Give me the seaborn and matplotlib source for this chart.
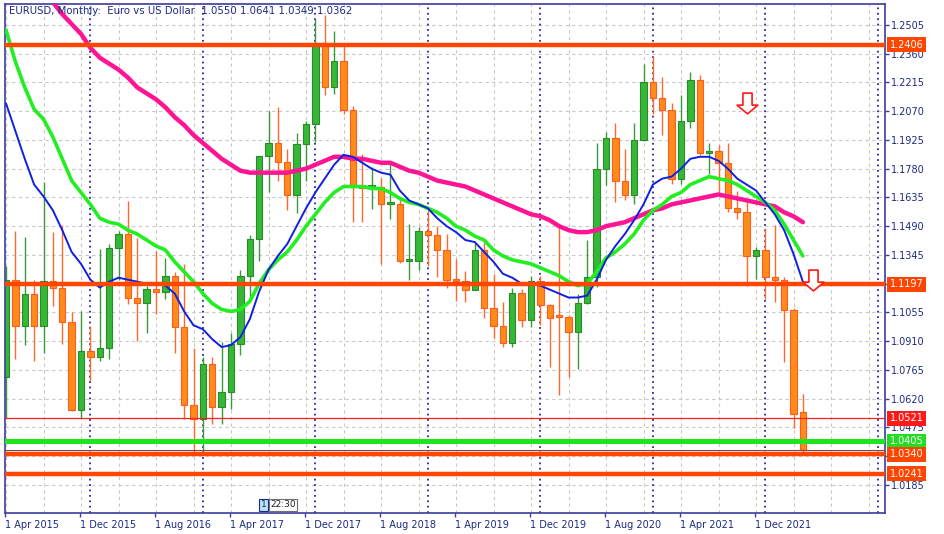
import numpy as np
import pandas as pd
import matplotlib
matplotlib.use("Agg")
import matplotlib.pyplot as plt
from matplotlib.path import Path
from matplotlib.patches import Rectangle
import seaborn as sns

sns.set_style("white")
plt.rcParams['font.family'] = ['DejaVu Sans']

# EURUSD monthly candles, Apr 2015 .. May 2022
opens = [1.0730, 1.1220, 1.0985, 1.1147, 1.0985, 1.1213, 1.1176, 1.1004, 1.0565, 1.0861,
         1.0831, 1.0873, 1.1380, 1.1453, 1.1130, 1.1103, 1.1175, 1.1157, 1.1240, 1.0980,
         1.0588, 1.0517, 1.0797, 1.0576, 1.0652, 1.0895, 1.1240, 1.1424, 1.1842, 1.1908,
         1.1813, 1.1646, 1.1903, 1.2005, 1.2414, 1.2194, 1.2323, 1.2078, 1.1693, 1.1684,
         1.1690, 1.1600, 1.1604, 1.1313, 1.1316, 1.1467, 1.1446, 1.1371, 1.1216, 1.1213,
         1.1170, 1.1371, 1.1076, 1.0985, 1.0899, 1.1152, 1.1017, 1.1213, 1.1093, 1.1040,
         1.1031, 1.0955, 1.1101, 1.1234, 1.1778, 1.1936, 1.1718, 1.1647, 1.1925, 1.2216,
         1.2136, 1.2075, 1.1728, 1.2020, 1.2227, 1.1858, 1.1868, 1.1807, 1.1580, 1.1559,
         1.1338, 1.1370, 1.1235, 1.1218, 1.1067, 1.0550]
highs = [1.1290, 1.1467, 1.1436, 1.1216, 1.1714, 1.1460, 1.1495, 1.1057, 1.1060, 1.0986,
         1.1376, 1.1400, 1.1464, 1.1616, 1.1428, 1.1186, 1.1366, 1.1327, 1.1258, 1.1300,
         1.0874, 1.0829, 1.0829, 1.0906, 1.0950, 1.1268, 1.1445, 1.1846, 1.2070, 1.2092,
         1.1880, 1.1961, 1.2023, 1.2537, 1.2556, 1.2476, 1.2414, 1.2097, 1.1852, 1.1791,
         1.1733, 1.1815, 1.1625, 1.1500, 1.1486, 1.1570, 1.1489, 1.1448, 1.1324, 1.1265,
         1.1412, 1.1412, 1.1250, 1.1109, 1.1179, 1.1175, 1.1239, 1.1239, 1.1095, 1.1496,
         1.1040, 1.1147, 1.1422, 1.1909, 1.1966, 1.2011, 1.1881, 1.2010, 1.2310, 1.2349,
         1.2243, 1.2113, 1.2150, 1.2266, 1.2254, 1.1908, 1.1900, 1.1909, 1.1665, 1.1616,
         1.1386, 1.1483, 1.1495, 1.1233, 1.1076, 1.0641]
lows = [1.0520, 1.0819, 1.0889, 1.0809, 1.0848, 1.1087, 1.0894, 1.0557, 1.0523, 1.0711,
        1.0810, 1.0822, 1.1217, 1.1098, 1.0912, 1.0952, 1.1046, 1.1123, 1.0852, 1.0518,
        1.0335, 1.0340, 1.0494, 1.0494, 1.0569, 1.0839, 1.1119, 1.1313, 1.1662, 1.1717,
        1.1574, 1.1554, 1.1717, 1.1916, 1.2154, 1.2155, 1.2055, 1.1510, 1.1509, 1.1575,
        1.1301, 1.1526, 1.1302, 1.1216, 1.1269, 1.1290, 1.1234, 1.1176, 1.1110, 1.1107,
        1.1168, 1.1028, 1.0926, 1.0879, 1.0879, 1.0981, 1.0981, 1.0992, 1.0778, 1.0636,
        1.0727, 1.0767, 1.1095, 1.1185, 1.1696, 1.1612, 1.1622, 1.1603, 1.1920, 1.2054,
        1.1952, 1.1704, 1.1704, 1.1986, 1.1847, 1.1752, 1.1664, 1.1562, 1.1524, 1.1186,
        1.1222, 1.1121, 1.1106, 1.0806, 1.0470, 1.0349]
closes = [1.1220, 1.0985, 1.1147, 1.0985, 1.1213, 1.1176, 1.1004, 1.0565, 1.0861, 1.0831,
          1.0873, 1.1380, 1.1453, 1.1130, 1.1103, 1.1175, 1.1157, 1.1240, 1.0980, 1.0588,
          1.0517, 1.0797, 1.0576, 1.0652, 1.0895, 1.1240, 1.1424, 1.1842, 1.1908, 1.1813,
          1.1646, 1.1903, 1.2005, 1.2414, 1.2194, 1.2323, 1.2078, 1.1693, 1.1684, 1.1690,
          1.1600, 1.1604, 1.1313, 1.1316, 1.1467, 1.1446, 1.1371, 1.1216, 1.1213, 1.1170,
          1.1371, 1.1076, 1.0985, 1.0899, 1.1152, 1.1017, 1.1213, 1.1093, 1.1027, 1.1031,
          1.0955, 1.1101, 1.1234, 1.1778, 1.1936, 1.1718, 1.1647, 1.1925, 1.2216, 1.2136,
          1.2075, 1.1728, 1.2020, 1.2227, 1.1858, 1.1868, 1.1807, 1.1580, 1.1559, 1.1338,
          1.1370, 1.1235, 1.1218, 1.1067, 1.0544, 1.0362]

# moving averages (one value per month)
ma_blue = [1.211, 1.197, 1.183, 1.170, 1.164, 1.157, 1.147, 1.136, 1.130, 1.122,
           1.118, 1.121, 1.123, 1.122, 1.121, 1.120, 1.120, 1.119, 1.115, 1.106,
           1.099, 1.097, 1.092, 1.088, 1.089, 1.093, 1.102, 1.116, 1.127, 1.134,
           1.140, 1.149, 1.158, 1.166, 1.173, 1.180, 1.185, 1.184, 1.181, 1.178,
           1.176, 1.175, 1.167, 1.162, 1.160, 1.158, 1.153, 1.149, 1.146, 1.142,
           1.141, 1.136, 1.131, 1.125, 1.123, 1.120, 1.120, 1.119, 1.117, 1.115,
           1.113, 1.113, 1.114, 1.122, 1.132, 1.139, 1.145, 1.152, 1.160, 1.170,
           1.173, 1.174, 1.178, 1.183, 1.184, 1.184, 1.182, 1.178, 1.173, 1.170,
           1.167, 1.161, 1.155, 1.147, 1.135, 1.121]
ma_green = [1.248, 1.232, 1.219, 1.208, 1.203, 1.194, 1.183, 1.172, 1.166, 1.160,
            1.153, 1.151, 1.150, 1.147, 1.145, 1.142, 1.139, 1.137, 1.131, 1.126,
            1.121, 1.115, 1.110, 1.107, 1.106, 1.107, 1.111, 1.120, 1.127, 1.132,
            1.136, 1.142, 1.149, 1.155, 1.161, 1.166, 1.169, 1.169, 1.169, 1.168,
            1.168, 1.166, 1.163, 1.161, 1.160, 1.158, 1.156, 1.153, 1.149, 1.147,
            1.144, 1.142, 1.137, 1.134, 1.132, 1.131, 1.130, 1.128, 1.126, 1.124,
            1.121, 1.119, 1.120, 1.126, 1.133, 1.136, 1.140, 1.145, 1.152, 1.157,
            1.160, 1.164, 1.166, 1.170, 1.172, 1.174, 1.173, 1.172, 1.170, 1.167,
            1.164, 1.161, 1.157, 1.150, 1.142, 1.134]
pink_start = 4
ma_pink = [1.268, 1.262, 1.256, 1.251, 1.246, 1.239,
           1.234, 1.231, 1.228, 1.224, 1.219, 1.216, 1.213, 1.209, 1.204, 1.200,
           1.195, 1.191, 1.187, 1.183, 1.180, 1.177, 1.176, 1.176, 1.176, 1.176,
           1.176, 1.177, 1.178, 1.180, 1.182, 1.184, 1.184, 1.183, 1.183, 1.182,
           1.181, 1.181, 1.179, 1.177, 1.176, 1.174, 1.172, 1.171, 1.170, 1.169,
           1.167, 1.165, 1.163, 1.161, 1.159, 1.157, 1.155, 1.154, 1.152, 1.149,
           1.147, 1.146, 1.146, 1.147, 1.149, 1.150, 1.151, 1.153, 1.155, 1.157,
           1.158, 1.160, 1.161, 1.162, 1.163, 1.164, 1.165, 1.164, 1.163, 1.162,
           1.161, 1.160, 1.159, 1.156, 1.154, 1.151]

# horizontal levels
orange_levels = [1.2406, 1.1197, 1.0340, 1.0241]
red_level = 1.0521
green_level = 1.0405
bid_level = 1.0362

# axis labels (1.1200 and 1.0330 sit under the price boxes, so they stay blank)
y_tick_values = [1.2505, 1.2360, 1.2215, 1.2070, 1.1925, 1.1780, 1.1635, 1.1490, 1.1345,
                 1.1200, 1.1055, 1.0910, 1.0765, 1.0620, 1.0475, 1.0330, 1.0185]
y_tick_labels = ['1.2505', '1.2360', '1.2215', '1.2070', '1.1925', '1.1780', '1.1635',
                 '1.1490', '1.1345', '', '1.1055', '1.0910', '1.0765', '1.0620',
                 '1.0475', '', '1.0185']
x_tick_months = [0, 8, 16, 24, 32, 40, 48, 56, 64, 72, 80]
x_tick_labels = ['1 Apr 2015', '1 Dec 2015', '1 Aug 2016', '1 Apr 2017', '1 Dec 2017',
                 '1 Aug 2018', '1 Apr 2019', '1 Dec 2019', '1 Aug 2020', '1 Apr 2021',
                 '1 Dec 2021']
year_start_months = [9, 21, 33, 45, 57, 69, 81, 93]

# arrow objects
arrow_months = [79.0, 86.1]
arrow_prices = [1.2111, 1.1218]

title = "EURUSD, Monthly:  Euro vs US Dollar  1.0550 1.0641 1.0349 1.0362"

NAVY = '#1E2A80'
FRAME = '#3C3CA0'
ORANGE = '#FF4500'

df = pd.DataFrame({'open': opens, 'high': highs, 'low': lows, 'close': closes})
df['month'] = np.arange(len(df))
df['bull'] = df['close'] >= df['open']

fig = plt.figure(figsize=(9.44, 5.34), dpi=100)
ax = fig.add_axes([5 / 944, 21 / 534, 880 / 944, 509 / 534])

ax.set_xlim(-0.107, 93.76)
ax.set_ylim(1.00428, 1.26110)

# grid
for yv in y_tick_values:
    ax.axhline(yv, color='#C8C8C8', lw=0.8, ls=(0, (3, 3)), zorder=0)
for m in range(0, 94, 4):
    ax.axvline(m, color='#C8C8C8', lw=0.8, ls=(0, (3, 3)), zorder=0)
for m in year_start_months:
    ax.axvline(m, color='#2828A0', lw=1.3, ls=(0, (1, 2)), zorder=0.5)

# candles
bull = df[df['bull']]
bear = df[~df['bull']]
ax.vlines(bull['month'], bull['low'], bull['high'], color='#3A9A3A', lw=1, zorder=2)
ax.vlines(bear['month'], bear['low'], bear['high'], color='#FF6A2A', lw=1, zorder=2)
body_b = np.maximum((bull['close'] - bull['open']).values, 0.0012)
ax.bar(bull['month'], body_b, bottom=bull['open'], width=0.68, color='#36B836',
       edgecolor='#2A8A2A', lw=0.8, zorder=2.1)
body_r = np.maximum((bear['open'] - bear['close']).values, 0.0012)
ax.bar(bear['month'], body_r, bottom=bear['close'], width=0.68, color='#FF8C1A',
       edgecolor='#FF5A1F', lw=0.8, zorder=2.1)

# moving averages
months = np.arange(len(ma_blue))
sns.lineplot(x=months[pink_start:], y=ma_pink, ax=ax, color='#FF1493', lw=3.2, zorder=3)
sns.lineplot(x=months, y=ma_green, ax=ax, color='#22EE22', lw=2.6, zorder=3.1)
sns.lineplot(x=months, y=ma_blue, ax=ax, color='#1020E0', lw=1.4, zorder=3.2)

# horizontal levels
for lv in orange_levels:
    ax.axhline(lv, color=ORANGE, lw=3.2, zorder=4)
ax.axhline(red_level, color='#FF2020', lw=0.9, zorder=4)
ax.axhline(green_level, color='#1EE61E', lw=3.6, zorder=4)
ax.axhline(bid_level, color='#7A4A4A', lw=0.8, zorder=4)

# arrows
verts = [(-0.22, 0.5), (0.22, 0.5), (0.22, -0.08), (0.5, -0.08), (0.0, -0.5),
         (-0.5, -0.08), (-0.22, -0.08), (-0.22, 0.5)]
arrow_marker = Path(verts, [Path.MOVETO] + [Path.LINETO] * 6 + [Path.CLOSEPOLY])
ax.plot(arrow_months, arrow_prices, ls='none', marker=arrow_marker, markersize=15,
        mfc='white', mec='#FF1A1A', mew=1.2, zorder=6, clip_on=False)

# axes styling
ax.yaxis.tick_right()
ax.set_yticks(y_tick_values)
ax.set_yticklabels(y_tick_labels)
ax.set_xticks([m - 0.1 for m in x_tick_months])
ax.set_xticklabels(x_tick_labels, ha='left')
ax.tick_params(axis='y', right=True, length=3, width=1, color=FRAME, pad=1.5,
               labelsize=7, labelcolor=NAVY)
ax.tick_params(axis='x', bottom=True, length=3, width=1, color=FRAME, pad=2,
               labelsize=7, labelcolor=NAVY)
for sp in ax.spines.values():
    sp.set_color(FRAME)
    sp.set_linewidth(1.2)
ax.set_xlabel('')
ax.set_ylabel('')

# price labels on the right
tr = ax.get_yaxis_transform()
# bid box, mostly hidden under the 1.0340 box
ax.add_patch(Rectangle((1.0045, bid_level - 0.0015), 0.0405, 0.0045, transform=tr,
                       fc='#8C8C8C', ec='none', clip_on=False, zorder=9))
label_boxes = [(orange_levels[0], ORANGE), (orange_levels[1], ORANGE),
               (red_level, '#FF1A1A'), (green_level, '#22DD22'),
               (orange_levels[2], ORANGE), (orange_levels[3], ORANGE)]
for price, col in label_boxes:
    ax.text(1.0055, price, f"{price:.4f}", transform=tr, ha='left', va='center',
            fontsize=7, color='white', clip_on=False, zorder=10,
            bbox=dict(boxstyle='square,pad=0.25', fc=col, ec='none'))

# title and timer
ax.text(0.0045, 0.986, title, transform=ax.transAxes, ha='left', va='center',
        fontsize=7.3, color=NAVY, zorder=10)
ax.text(0.2905, 0.016, "1", transform=ax.transAxes, ha='left', va='center', fontsize=6.5,
        color=NAVY, zorder=10, bbox=dict(boxstyle='square,pad=0.15', fc='#B8E4F4', ec=NAVY, lw=0.8))
ax.text(0.3015, 0.016, "22:30", transform=ax.transAxes, ha='left', va='center', fontsize=6.5,
        color='#202020', zorder=10, bbox=dict(boxstyle='square,pad=0.15', fc='white', ec='#707070', lw=0.8))

fig.savefig('out.png', dpi=100)
